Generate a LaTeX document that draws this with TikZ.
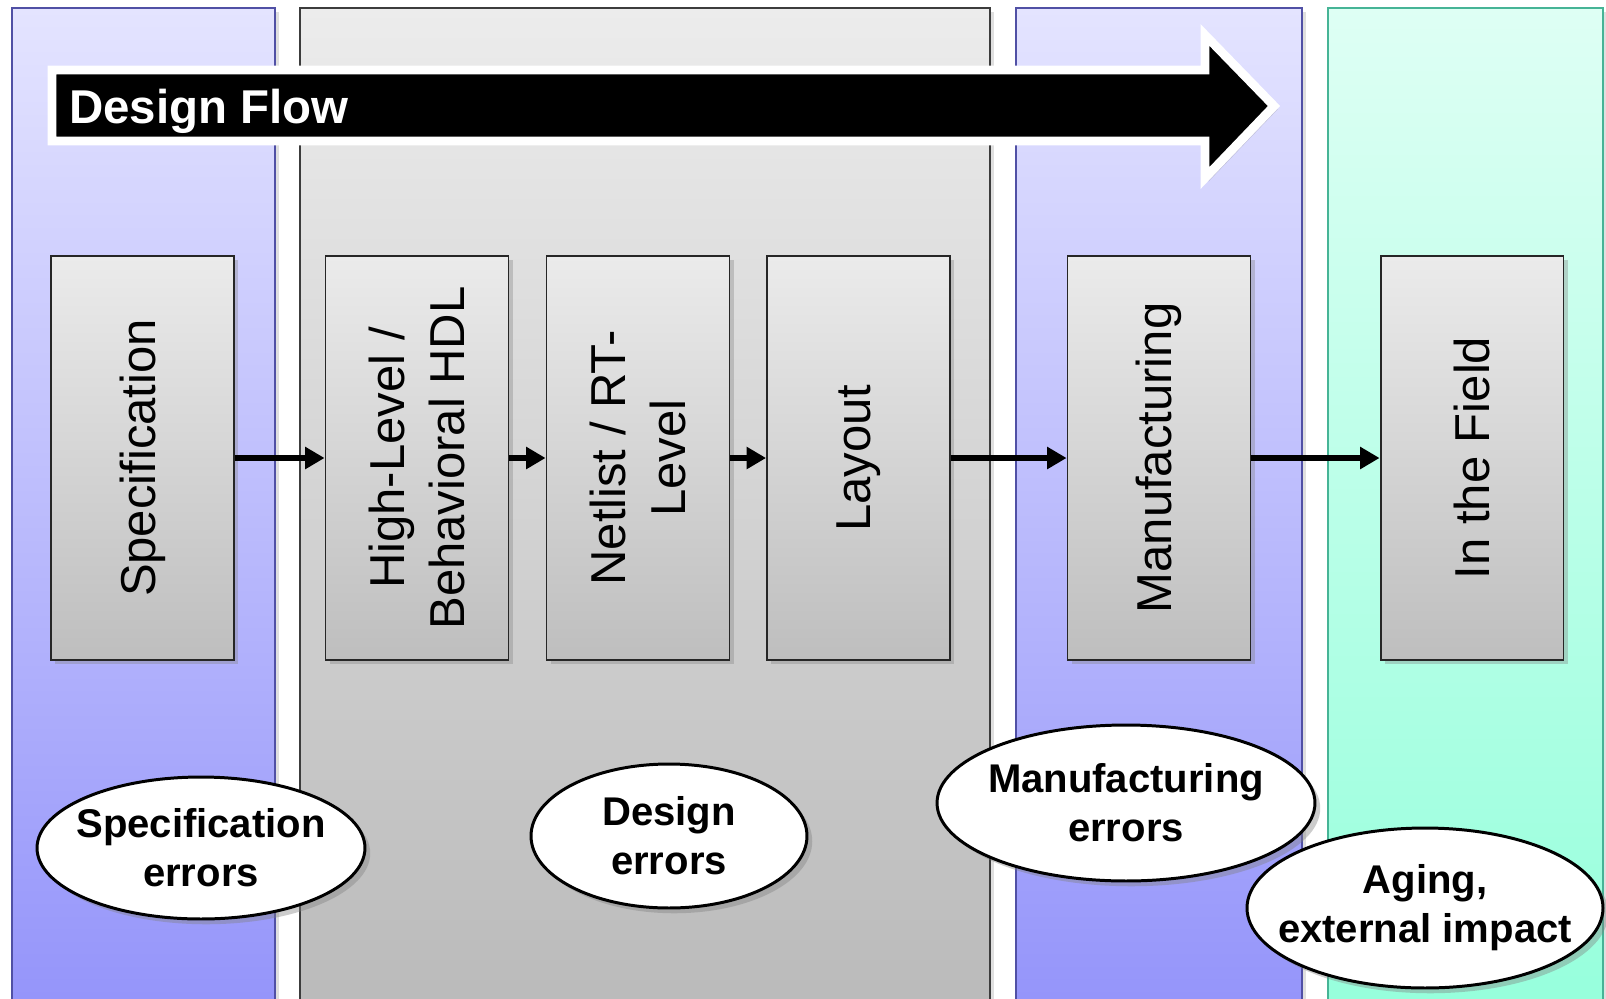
\documentclass[tikz,border=0pt]{standalone}
\usepackage{fontspec}
\setmainfont{Liberation Sans}
\usetikzlibrary{shapes.geometric, arrows.meta, shadows}

\definecolor{bluetop}{RGB}{228,228,255}
\definecolor{bluebot}{RGB}{148,148,250}
\definecolor{blueedge}{RGB}{80,80,165}
\definecolor{graytop}{RGB}{236,236,236}
\definecolor{graybot}{RGB}{186,186,186}
\definecolor{grayedge}{RGB}{60,60,60}
\definecolor{tealtop}{RGB}{222,255,244}
\definecolor{tealbot}{RGB}{150,255,220}
\definecolor{tealedge}{RGB}{70,180,150}
\definecolor{boxtop}{RGB}{235,235,235}
\definecolor{boxbot}{RGB}{190,190,190}

\begin{document}
\begin{tikzpicture}[x=0.02cm, y=-0.02cm,
    panel/.style={line width=1.1pt, drop shadow={shadow xshift=2pt, shadow yshift=-2pt, opacity=0.25}},
    stage/.style={draw=black!85, line width=1.1pt, top color=boxtop, bottom color=boxbot,
        minimum width=8.08cm, minimum height=3.66cm, rotate=90, align=center,
        font=\fontsize{27.9}{34}\selectfont,
        drop shadow={shadow xshift=2.5pt, shadow yshift=-2.5pt, opacity=0.35}},
    flaw/.style={ellipse, draw=black, line width=1.7pt, fill=white, inner xsep=-12pt, inner ysep=0pt, align=center,
        font=\fontsize{22.8}{27.9}\selectfont\bfseries,
        drop shadow={shadow xshift=3pt, shadow yshift=-3pt, opacity=0.4}},
    flow/.style={line width=3pt, -{Triangle[length=11pt, width=12pt]}}]
    \useasboundingbox (0,0) rectangle (1606,998);
    \clip (0,0) rectangle (1606,998);
    \fill[white] (0,0) rectangle (1606,998);
    % Phase panels
    \shade[panel, top color=bluetop, bottom color=bluebot] (12,8) rectangle (275,1010);
    \draw[blueedge, line width=1.1pt] (12,8) rectangle (275,1010);
    \shade[panel, top color=graytop, bottom color=graybot] (300,8) rectangle (990,1010);
    \draw[grayedge, line width=1.1pt] (300,8) rectangle (990,1010);
    \shade[panel, top color=bluetop, bottom color=bluebot] (1016,8) rectangle (1302,1010);
    \draw[blueedge, line width=1.1pt] (1016,8) rectangle (1302,1010);
    \shade[panel, top color=tealtop, bottom color=tealbot] (1328,8) rectangle (1603,1010);
    \draw[tealedge, line width=1.1pt] (1328,8) rectangle (1603,1010);
    % Design flow arrow
    \draw[fill=black, draw=white, line width=5pt, line join=miter,
        drop shadow={shadow xshift=2pt, shadow yshift=-2pt, opacity=0.3}]
        (52,70) -- (1205,70) -- (1205,35) -- (1274,106) -- (1205,178) -- (1205,141) -- (52,141) -- cycle;
    \node[anchor=west, inner sep=0pt, text=white, font=\fontsize{27}{30}\selectfont\bfseries]
        (flowlabel) at (69,111) {Design Flow};
    % Stages
    \node[stage] (spec) at (142.5,458) {Specification};
    \node[stage] (hdl) at (417,458) {High-Level /\\Behavioral HDL};
    \node[stage] (netlist) at (638,458) {Netlist / RT-\\Level};
    \node[stage] (layout) at (858.5,458) {Layout};
    \node[stage] (manuf) at (1159,458) {Manufacturing};
    \node[stage] (field) at (1472,458) {In the Field};
    \draw[flow] (spec) -- (hdl);
    \draw[flow] (hdl) -- (netlist);
    \draw[flow] (netlist) -- (layout);
    \draw[flow] (layout) -- (manuf);
    \draw[flow] (manuf) -- (field);
    % Error sources
    \node[flaw, minimum width=6.56cm, minimum height=2.84cm] (specerr) at (201,848) {Specification\\errors};
    \node[flaw, minimum width=5.52cm, minimum height=2.88cm] (designerr) at (669,836) {Design\\errors};
    \node[flaw, minimum width=7.56cm, minimum height=3.12cm] (manuferr) at (1126,803) {Manufacturing\\errors};
    \node[flaw, minimum width=7.12cm, minimum height=3.2cm] (agingerr) at (1425,908) {Aging,\\external impact};
\end{tikzpicture}
\end{document}
